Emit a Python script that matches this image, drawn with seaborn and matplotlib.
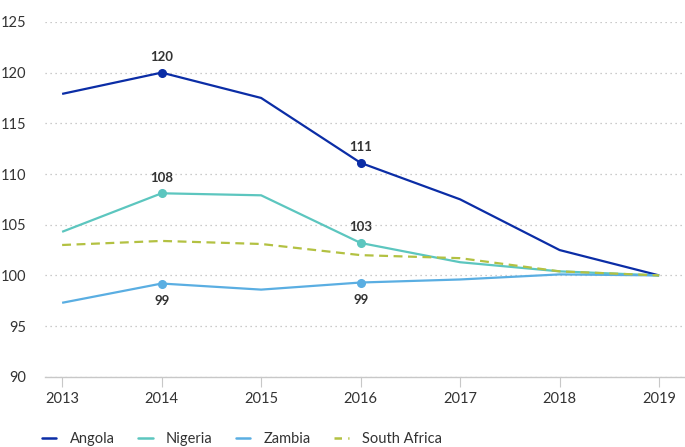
import pandas as pd
import seaborn as sns
import matplotlib.pyplot as plt
from matplotlib.lines import Line2D

# Data
years = [2013, 2014, 2015, 2016, 2017, 2018, 2019]
angola = [117.9, 120.0, 117.5, 111.1, 107.5, 102.5, 100.0]
nigeria = [104.3, 108.1, 107.9, 103.2, 101.3, 100.4, 100.0]
zambia = [97.3, 99.2, 98.6, 99.3, 99.6, 100.1, 100.0]
south_africa = [103.0, 103.4, 103.1, 102.0, 101.7, 100.4, 100.0]

series_names = ['Angola', 'Nigeria', 'Zambia', 'South Africa']
series_values = [angola, nigeria, zambia, south_africa]
colors = ['#0b2da6', '#5cc6bf', '#5aaee2', '#b3c142']
dashes = [(1, 0), (1, 0), (1, 0), (4, 2.5)]

# labelled points: (series, year, text, position)
labels = [
    ('Angola', 2014, '120', 'above'),
    ('Angola', 2016, '111', 'above'),
    ('Nigeria', 2014, '108', 'above'),
    ('Nigeria', 2016, '103', 'above'),
    ('Zambia', 2014, '99', 'below'),
    ('Zambia', 2016, '99', 'below'),
]

rows = []
for name, vals in zip(series_names, series_values):
    for y, v in zip(years, vals):
        rows.append({'year': y, 'value': v, 'country': name})
df = pd.DataFrame(rows)

sns.set_style('white')
plt.rcParams['font.family'] = ['Lato', 'DejaVu Sans']

fig = plt.figure(figsize=(6.85, 4.47), dpi=100)
ax = fig.add_axes([0.066, 0.157, 0.934, 0.794])

sns.lineplot(data=df, x='year', y='value', hue='country', style='country',
             palette=colors, dashes=dashes, linewidth=1.6, ax=ax, legend=False)

for name, year, text, pos in labels:
    i = series_names.index(name)
    v = series_values[i][years.index(year)]
    ax.plot(year, v, 'o', color=colors[i], markersize=5.5, zorder=5)
    off = 7 if pos == 'above' else -8
    ax.annotate(text, (year, v), xytext=(0, off), textcoords='offset points',
                ha='center', va='bottom' if pos == 'above' else 'top',
                fontsize=9.5, fontweight='bold', color='#333333')

ax.set_xlim(2012.83, 2019.26)
ax.set_ylim(90, 125)
ax.set_yticks(range(90, 126, 5))
ax.set_xticks(years)
ax.set_xlabel('')
ax.set_ylabel('')
ax.grid(axis='y', linestyle=(0, (1, 3)), color='#bbbbbb', linewidth=0.9)
ax.grid(axis='x', visible=False)
for s in ['left', 'right', 'top']:
    ax.spines[s].set_visible(False)
ax.spines['bottom'].set_color('#c8c8c8')
ax.spines['bottom'].set_linewidth(1.0)
ax.tick_params(axis='x', bottom=True, length=7, color='#c8c8c8', labelsize=10.5,
               labelcolor='#333333', pad=4)
ax.tick_params(axis='y', left=False, labelsize=10.5, labelcolor='#333333', pad=10)

handles = [Line2D([0], [0], color=c, linewidth=1.8,
                  linestyle='-' if d == (1, 0) else (0, (3, 2.5)))
           for c, d in zip(colors, dashes)]
fig.legend(handles, series_names, loc='lower left', bbox_to_anchor=(0.042, -0.028),
           ncol=4, frameon=False, fontsize=10.5, handlelength=1.0,
           columnspacing=1.6, handletextpad=0.9, labelcolor='#333333')

fig.savefig('out.png', dpi=100)
